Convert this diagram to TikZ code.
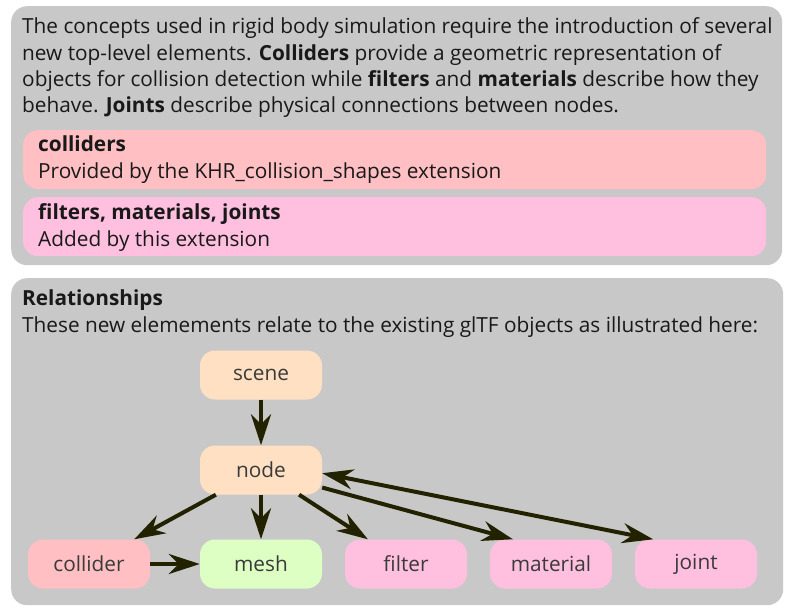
\documentclass[tikz,border=0pt]{standalone}
\usepackage{fontspec}
\setmainfont{Open Sans}
\usetikzlibrary{arrows.meta}
\definecolor{panelgray}{HTML}{C8C8C8}
\definecolor{colpink}{HTML}{FFBFC3}
\definecolor{extpink}{HTML}{FFBFDF}
\definecolor{peach}{HTML}{FFE0C3}
\definecolor{lightgreen}{HTML}{DDFFC3}
\definecolor{arrowcol}{HTML}{222200}
\definecolor{labelcol}{HTML}{3A3A3A}
\tikzset{
  panel/.style={rectangle, rounded corners=16pt, fill=panelgray, anchor=north west, inner sep=0pt},
  band/.style={rectangle, rounded corners=15pt, anchor=north west, inner sep=0pt, minimum width=743pt, minimum height=59pt},
  txt/.style={anchor=base west, inner sep=0pt, font=\fontsize{20.8}{25}\selectfont, text=black!90},
  gnode/.style={rectangle, rounded corners=15pt, minimum width=122pt, minimum height=49pt, inner sep=0pt, font=\fontsize{20.8}{25}\selectfont, text=labelcol},
  tip/.style={},
  conn/.style={draw=arrowcol, line width=4pt, -{Stealth[length=31pt,width=20pt,inset=10pt]}},
  biconn/.style={draw=arrowcol, line width=4pt, {Stealth[length=31pt,width=20pt,inset=10pt]}-{Stealth[length=31pt,width=20pt,inset=10pt]}}
}
\begin{document}
\begin{tikzpicture}[x=1pt,y=-1pt]
\useasboundingbox (0,0) rectangle (794,612);
% panels
\node[panel, minimum width=771pt, minimum height=259pt] (toppanel) at (11,6) {};
\node[panel, minimum width=772pt, minimum height=327pt] (botpanel) at (11,278) {};
\node[band, fill=colpink] (colband) at (23,130) {};
\node[band, fill=extpink] (extband) at (23,197) {};
% top text
\node[txt] (l1) at (22,34) {The concepts used in rigid body simulation require the introduction of several};
\node[txt] (l2) at (22,61) {new top-level elements. \textbf{Colliders} provide a geometric representation of};
\node[txt] (l3) at (22,87) {objects for collision detection while \textbf{filters} and \textbf{materials} describe how they};
\node[txt] (l4) at (22,113) {behave. \textbf{Joints} describe physical connections between nodes.};
\node[txt] (c1) at (38,152) {\textbf{colliders}};
\node[txt] (c2) at (38,179) {Provided by the KHR\_collision\_shapes extension};
\node[txt] (e1) at (38,219) {\textbf{filters, materials, joints}};
\node[txt] (e2) at (38,246) {Added by this extension};
\node[txt] (r1) at (22,305) {\textbf{Relationships}};
\node[txt] (r2) at (22,332) {These new elemements relate to the existing glTF objects as illustrated here:};
% graph
\node[gnode, fill=peach] (scene) at (261,375) {scene};
\node[gnode, fill=peach] (nd) at (261,470) {node};
\node[gnode, fill=colpink] (collider) at (89,564) {collider};
\node[gnode, fill=lightgreen] (mesh) at (261,564) {mesh};
\node[gnode, fill=extpink] (filter) at (406,564) {filter};
\node[gnode, fill=extpink] (material) at (551,564) {material};
\node[gnode, fill=extpink] (joint) at (696,564) {joint};
% connectors
\draw[conn] (scene) -- (nd);
\draw[conn] (nd) -- (collider);
\draw[conn] (nd) -- (mesh);
\draw[conn] (nd) -- (filter);
\draw[conn] (nd.-16) -- (material.147);
\draw[biconn] (nd.-3) -- (joint.150);
\draw[conn] (collider) -- (mesh);
\end{tikzpicture}
\end{document}
